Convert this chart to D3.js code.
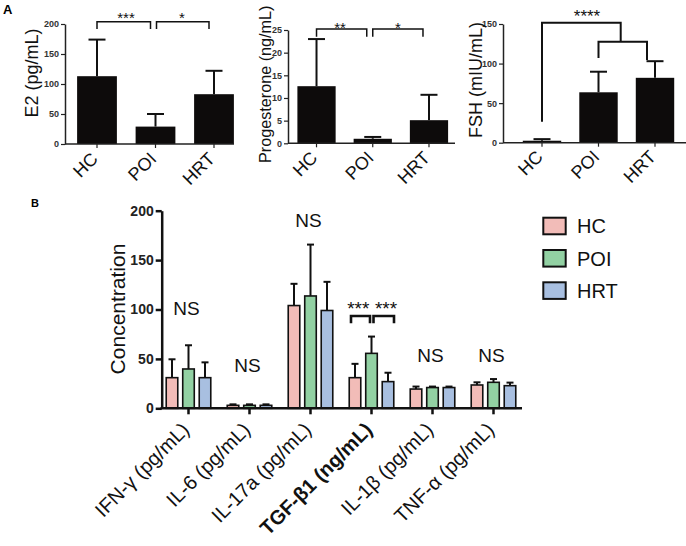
<!DOCTYPE html>
<html><head><meta charset="utf-8">
<script src="https://cdn.jsdelivr.net/npm/d3@7"></script>
<style>
body{margin:0;background:#fff;}
svg{display:block;font-family:"Liberation Sans",Arial,sans-serif;}
</style></head>
<body><svg id="c" width="686" height="546"></svg>
<script>
// ---------- Data ----------
const groupsA = ["HC", "POI", "HRT"];
const e2Mean = [113, 29, 83];
const e2SD = [61, 21, 39];
const e2Ticks = [0, 50, 100, 150, 200];
const progMean = [12.6, 1.0, 5.1];
const progSD = [10.4, 0.4, 5.6];
const progTicks = [0, 5, 10, 15, 20, 25];
const fshMean = [2.5, 63.7, 82];
const fshSD = [2, 26, 21];
const fshTicks = [0, 50, 100, 150];

const cytokines = ["IFN-γ (pg/mL)", "IL-6 (pg/mL)", "IL-17a (pg/mL)", "TGF-β1 (ng/mL)", "IL-1β (pg/mL)", "TNF-α (pg/mL)"];
const seriesB = ["HC", "POI", "HRT"];
const hcVals = [31, 3, 104, 31, 19.5, 23.6];
const hcSD = [18.6, 1, 22, 14, 2.5, 2.7];
const poiVals = [39.8, 3, 113.7, 55.6, 21, 26.3];
const poiSD = [24, 1, 52, 17, 1, 3.3];
const hrtVals = [31, 3, 99, 27, 21, 22.9];
const hrtSD = [15.5, 1, 29, 9, 1, 3.1];
const sigB = ["NS", "NS", "NS", "", "NS", "NS"];
const bTicks = [0, 50, 100, 150, 200];
const colors = ["#f2bcb8", "#92d1a3", "#a8bfe0"];

const svg = d3.select("#c");
const FONT = "'Liberation Sans', Arial, sans-serif";

// panel letters
svg.append("text").attr("x", 3).attr("y", 14).attr("font-size", 13).attr("font-weight", "bold").text("A");
svg.append("text").attr("x", 31).attr("y", 207).attr("font-size", 11).attr("font-weight", "bold").text("B");

// ---------- Panel A helper ----------
function panelA(cfg) {
  const g = svg.append("g");
  const x = d3.scaleBand().domain(groupsA).range(cfg.xr).paddingInner(0.32).paddingOuter(0.16);
  const y = d3.scaleLinear().domain([0, cfg.max]).range(cfg.yr);
  g.selectAll("rect.bar").data(groupsA).join("rect")
    .attr("x", d => x(d)).attr("width", x.bandwidth())
    .attr("y", (d, i) => y(cfg.mean[i])).attr("height", (d, i) => y(0) - y(cfg.mean[i]))
    .attr("fill", "#0d0b0b");
  groupsA.forEach((d, i) => {
    const cx = x(d) + x.bandwidth() / 2;
    const top = y(cfg.mean[i] + cfg.sd[i]);
    g.append("line").attr("x1", cx).attr("x2", cx).attr("y1", y(cfg.mean[i])).attr("y2", top)
      .attr("stroke", "#111").attr("stroke-width", 2);
    g.append("line").attr("x1", cx - 8.5).attr("x2", cx + 8.5).attr("y1", top).attr("y2", top)
      .attr("stroke", "#111").attr("stroke-width", 2);
  });
  const ya = g.append("g").attr("transform", `translate(${cfg.axX},0)`)
    .call(d3.axisLeft(y).tickValues(cfg.ticks).tickSize(4).tickPadding(2).tickSizeOuter(0));
  ya.select(".domain").attr("stroke", "#222").attr("stroke-width", 1.5);
  ya.selectAll(".tick line").attr("stroke", "#222").attr("stroke-width", 1.2);
  ya.selectAll(".tick text").attr("font-family", FONT).attr("font-size", 9).attr("font-weight", "bold").attr("fill", "#333");
  const xa = g.append("g").attr("transform", `translate(0,${y(0)})`)
    .call(d3.axisBottom(x).tickSize(4).tickSizeOuter(0).tickFormat(""));
  xa.select(".domain").attr("d", `M${cfg.axX},0H${cfg.axEnd}`).attr("stroke", "#222").attr("stroke-width", 1.5);
  xa.selectAll(".tick line").attr("stroke", "#222").attr("stroke-width", 1.2);
  groupsA.forEach(d => {
    const cx = x(d) + x.bandwidth() / 2;
    g.append("text").attr("transform", `translate(${cx + 2},${cfg.labY}) rotate(-45)`)
      .attr("text-anchor", "end").attr("font-size", 18).attr("fill", "#111").text(d);
  });
  g.append("text").attr("transform", `translate(${cfg.titleX},${cfg.titleY}) rotate(-90)`)
    .attr("text-anchor", cfg.titleAnchor).attr("font-size", cfg.titleSize).attr("fill", "#111").text(cfg.title);
  return { g, x, y, cx: d => x(d) + x.bandwidth() / 2 };
}

function bracket(g, x1, x2, yTop, yBot1, yBot2, sw) {
  g.append("path").attr("d", `M${x1},${yBot1}V${yTop}H${x2}V${yBot2}`)
    .attr("fill", "none").attr("stroke", "#111").attr("stroke-width", sw);
}
function stars(g, x, y, txt, size) {
  g.append("text").attr("x", x).attr("y", y).attr("text-anchor", "middle")
    .attr("font-size", size).attr("fill", "#111").text(txt);
}

// E2
const pE2 = panelA({ xr: [67.75, 243.25], yr: [144, 24], max: 200, mean: e2Mean, sd: e2SD, ticks: e2Ticks,
  axX: 65, axEnd: 234, labY: 160, title: "E2 (pg/mL)", titleX: 38, titleY: 73, titleAnchor: "middle", titleSize: 18 });
bracket(pE2.g, pE2.cx("HC"), pE2.cx("POI") - 5, 21.7, 29, 29, 1.5);
bracket(pE2.g, pE2.cx("POI") + 1, pE2.cx("HRT") - 5, 21.7, 29, 29, 1.5);
stars(pE2.g, 126, 22.5, "***", 15);
stars(pE2.g, 182, 22.5, "*", 15);

// Progesterone
const pPr = panelA({ xr: [288.4, 457.1], yr: [143.3, 30], max: 25, mean: progMean, sd: progSD, ticks: progTicks,
  axX: 288, axEnd: 455, labY: 159, title: "Progesterone (ng/mL)", titleX: 271, titleY: 163, titleAnchor: "start", titleSize: 16.2 });
bracket(pPr.g, pPr.cx("HC"), pPr.cx("POI") - 6, 29, 36.7, 36.7, 1.5);
bracket(pPr.g, pPr.cx("POI"), pPr.cx("HRT") - 6, 29, 36.7, 36.7, 1.5);
stars(pPr.g, 340, 32.5, "**", 15);
stars(pPr.g, 398, 32.5, "*", 15);

// FSH
const pF = panelA({ xr: [513.75, 683.25], yr: [142.7, 24], max: 150, mean: fshMean, sd: fshSD, ticks: fshTicks,
  axX: 503, axEnd: 686, labY: 158, title: "FSH (mIU/mL)", titleX: 482, titleY: 80, titleAnchor: "middle", titleSize: 18 });
bracket(pF.g, pF.cx("HC"), 620.7, 22.7, 121.7, 41.7, 2);
bracket(pF.g, pF.cx("POI"), pF.cx("HRT") - 8, 41.7, 58, 60, 2);
stars(pF.g, 587, 22, "****", 17);

// ---------- Panel B ----------
const gB = svg.append("g");
const xB = d3.scaleBand().domain(cytokines).range([158, 524]);
const xSub = d3.scaleBand().domain(seriesB).range([-24.75, 24.75]).paddingInner(0.3).paddingOuter(0.15);
const yB = d3.scaleLinear().domain([0, 200]).range([408.3, 210.7]);
const valsB = [hcVals, poiVals, hrtVals];
const sdB = [hcSD, poiSD, hrtSD];
const gc = d => xB(d) + xB.bandwidth() / 2;

seriesB.forEach((s, si) => {
  cytokines.forEach((c, ci) => {
    const v = valsB[si][ci], e = sdB[si][ci];
    const bx = gc(c) + xSub(s);
    const cx = bx + xSub.bandwidth() / 2;
    const top = yB(v + e);
    gB.append("line").attr("x1", cx).attr("x2", cx).attr("y1", yB(v)).attr("y2", top)
      .attr("stroke", "#111").attr("stroke-width", 2);
    gB.append("line").attr("x1", cx - 3.5).attr("x2", cx + 3.5).attr("y1", top).attr("y2", top)
      .attr("stroke", "#111").attr("stroke-width", 2);
    gB.append("rect").attr("x", bx).attr("width", xSub.bandwidth())
      .attr("y", yB(v)).attr("height", yB(0) - yB(v))
      .attr("fill", colors[si]).attr("stroke", "#111").attr("stroke-width", 1.6);
  });
});

const yaB = gB.append("g").attr("transform", "translate(161.7,0)")
  .call(d3.axisLeft(yB).tickValues(bTicks).tickSize(6).tickPadding(2).tickSizeOuter(0));
yaB.select(".domain").attr("stroke", "#111").attr("stroke-width", 2.5);
yaB.selectAll(".tick line").attr("stroke", "#111").attr("stroke-width", 2.5);
yaB.selectAll(".tick text").attr("font-family", FONT).attr("font-size", 14).attr("font-weight", "bold").attr("fill", "#222");

const xaB = gB.append("g").attr("transform", `translate(0,${yB(0)})`)
  .call(d3.axisBottom(xB).tickSize(6).tickSizeOuter(0).tickFormat(""));
xaB.select(".domain").attr("d", "M160.5,0H522").attr("stroke", "#111").attr("stroke-width", 2.5);
xaB.selectAll(".tick line").attr("stroke", "#111").attr("stroke-width", 2.5);

cytokines.forEach(c => {
  gB.append("text").attr("transform", `translate(${gc(c) + 2},431) rotate(-45)`)
    .attr("text-anchor", "end").attr("font-size", 20)
    .attr("font-weight", c.startsWith("TGF") ? "bold" : "normal").attr("fill", "#111").text(c);
});

gB.append("text").attr("transform", "translate(125,309) rotate(-90)")
  .attr("text-anchor", "middle").attr("font-size", 21).attr("fill", "#111").text("Concentration");

// NS labels
const nsLevel = [94, 37, 183, 0, 47, 47];
cytokines.forEach((c, ci) => {
  if (sigB[ci]) gB.append("text").attr("x", gc(c) - 2).attr("y", yB(nsLevel[ci]))
    .attr("text-anchor", "middle").attr("font-size", 19).attr("fill", "#111").text(sigB[ci]);
});
// TGF brackets
const tg = cytokines[3];
const subC = s => gc(tg) + xSub(s) + xSub.bandwidth() / 2;
bracket(gB, subC("HC") - 4, subC("POI") - 1.5, 316, 323.3, 323.3, 2.6);
bracket(gB, subC("POI") + 2, subC("HRT") + 6, 316, 323.3, 323.3, 2.6);
stars(gB, 358.3, 315, "***", 19);
stars(gB, 386, 315, "***", 19);

// Legend
const lg = svg.append("g");
seriesB.forEach((s, i) => {
  const yy = 217.7 + i * 32.3;
  lg.append("rect").attr("x", 543.3).attr("y", yy).attr("width", 22.4).attr("height", 16.6)
    .attr("fill", colors[i]).attr("stroke", "#111").attr("stroke-width", 2);
  lg.append("text").attr("x", 577).attr("y", yy + 15.6).attr("font-size", 20).attr("fill", "#111").text(s);
});
</script></body></html>
